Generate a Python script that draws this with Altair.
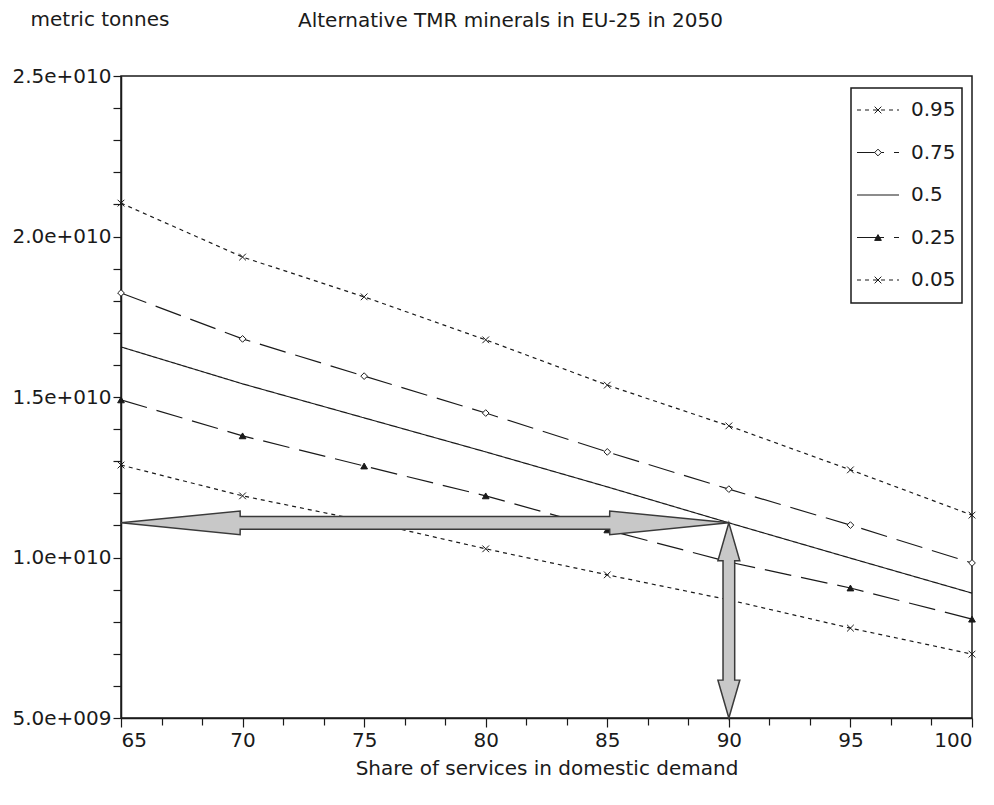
import altair as alt
import pandas as pd

# ---------------- data (values in 1e9 metric tonnes) ----------------
share = [65, 70, 75, 80, 85, 90, 95, 100]
series_labels = ["0.95", "0.75", "0.5", "0.25", "0.05"]
q95 = [21.04, 19.36, 18.12, 16.78, 15.37, 14.10, 12.73, 11.32]
q75 = [18.24, 16.81, 15.65, 14.50, 13.29, 12.13, 11.01, 9.83]
q50 = [16.56, 15.41, 14.35, 13.29, 12.20, 11.08, 9.98, 8.89]
q25 = [14.91, 13.79, 12.85, 11.92, 10.86, 9.86, 9.05, 8.08]
q05 = [12.88, 11.92, 11.14, 10.27, 9.46, 8.68, 7.80, 6.99]

x_major = [65, 70, 75, 80, 85, 90, 95, 100]
x_minor = [65 + 5 * k / 3 for k in range(1, 21) if k % 3 != 0]
y_major = [5e9, 1e10, 1.5e10, 2e10, 2.5e10]
y_minor = [k * 1e9 for k in range(6, 25) if k % 5 != 0]

title_text = "Alternative TMR minerals in EU-25 in 2050"
y_title = "metric tonnes"
x_title = "Share of services in domestic demand"

arrow_x = 90          # share where the arrows meet
arrow_from_x = 65
arrow_floor = 5e9

FONT = "DejaVu Sans"
INK = "#1a1a1a"

rows = []
for lab, vals in zip(series_labels, [q95, q75, q50, q25, q05]):
    for s, v in zip(share, vals):
        rows.append({"series": lab, "share": s, "value": v * 1e9})
df = pd.DataFrame(rows)
pts = df[df["series"] != "0.5"]

x_scale = alt.Scale(domain=[65, 100], nice=False, zero=False)
y_scale = alt.Scale(domain=[5e9, 2.5e10], nice=False, zero=False)
dash_scale = alt.Scale(domain=series_labels,
                       range=[[4, 4], [27, 10], [1, 0], [27, 10], [4, 4]])
xpath = "M-1,-1L1,1M-1,1L1,-1"
mk_labels = ["0.95", "0.75", "0.25", "0.05"]
shape_scale = alt.Scale(domain=mk_labels, range=[xpath, "diamond", "triangle-up", xpath])
fill_scale = alt.Scale(domain=mk_labels, range=["transparent", "white", INK, "transparent"])

label_expr = ("format(datum.value / pow(10, floor(log(datum.value) / LN10 + 1e-9)), '.1f')"
              " + 'e+' + pad(toString(floor(log(datum.value) / LN10 + 1e-9)), 3, '0', 'left')")

lines = alt.Chart(df).mark_line(color=INK, strokeWidth=1.2).encode(
    x=alt.X("share:Q", scale=x_scale,
            axis=alt.Axis(values=x_major, orient="bottom", tickSize=9, labelPadding=3, format="d",
                          title=x_title, titlePadding=8)),
    y=alt.Y("value:Q", scale=y_scale,
            axis=alt.Axis(values=y_major, orient="left", tickSize=8, labelPadding=2,
                          labelExpr=label_expr, title=y_title, titleAngle=0,
                          titleX=-91, titleY=-57, titleAlign="left", titleBaseline="middle")),
    strokeDash=alt.StrokeDash("series:N", scale=dash_scale, legend=None),
    detail="series:N",
)

points = alt.Chart(pts).mark_point(filled=True, stroke=INK, strokeWidth=1, size=45, opacity=1).encode(
    x=alt.X("share:Q", scale=x_scale,
            axis=alt.Axis(values=x_minor, orient="bottom", tickSize=7, labels=False,
                          domain=False, title=None)),
    y=alt.Y("value:Q", scale=y_scale,
            axis=alt.Axis(values=y_minor, orient="left", tickSize=8, labels=False,
                          domain=False, title=None)),
    shape=alt.Shape("series:N", scale=shape_scale, legend=None),
    fill=alt.Fill("series:N", scale=fill_scale, legend=None),
)

# ---- arrows (annotation) ----
v = q50[share.index(arrow_x)] * 1e9
eps = 0.002        # tiny step so that the outline steps are near-vertical
h_len = 4.9        # head length, x units
h_half = 0.37e9    # head half height
s_half = 0.20e9    # shaft half height
harrow = pd.DataFrame({
    "x": [arrow_from_x, arrow_from_x + h_len, arrow_from_x + h_len + eps,
          arrow_x - h_len - eps, arrow_x - h_len, arrow_x],
    "y": [v, v + h_half, v + s_half, v + s_half, v + h_half, v],
    "y2": [v, v - h_half, v - s_half, v - s_half, v - h_half, v],
})
v_len = 1.18e9
yeps = 0.003e9
v_half = 0.45
vs_half = 0.24
varrow = pd.DataFrame({
    "y": [v, v - v_len, v - v_len - yeps, arrow_floor + v_len + yeps, arrow_floor + v_len, arrow_floor],
    "x": [arrow_x, arrow_x - v_half, arrow_x - vs_half, arrow_x - vs_half, arrow_x - v_half, arrow_x],
    "x2": [arrow_x, arrow_x + v_half, arrow_x + vs_half, arrow_x + vs_half, arrow_x + v_half, arrow_x],
})
arrow_style = dict(fill="#c8c8c8", stroke="#3a3a3a", strokeWidth=1.5, opacity=1, interpolate="linear")
h_layer = alt.Chart(harrow).mark_area(**arrow_style).encode(
    x=alt.X("x:Q", scale=x_scale, axis=None),
    y=alt.Y("y:Q", scale=y_scale, axis=None, stack=None),
    y2="y2:Q",
)
v_layer = alt.Chart(varrow).mark_area(orient="horizontal", **arrow_style).encode(
    y=alt.Y("y:Q", scale=y_scale, axis=None),
    x=alt.X("x:Q", scale=x_scale, axis=None, stack=None),
    x2="x2:Q",
)

main = alt.layer(lines, points, h_layer, v_layer).resolve_axis(x="independent", y="independent")

# ---- legend box ----
leg_df = pd.DataFrame({"series": series_labels})
leg_y = alt.Y("series:N", scale=alt.Scale(type="point", domain=series_labels,
                                          range=[34, 204], padding=0), axis=None)
box = alt.Chart(pd.DataFrame({"a": [0]})).mark_rect(
    fill="white", stroke=INK, strokeWidth=1.5).encode(
    x=alt.value(730), x2=alt.value(841), y=alt.value(12), y2=alt.value(227))
leg_lines = alt.Chart(leg_df).mark_rule(color=INK, strokeWidth=1.2).encode(
    x=alt.value(736), x2=alt.value(778), y=leg_y,
    strokeDash=alt.StrokeDash("series:N", scale=dash_scale, legend=None))
leg_pts = alt.Chart(leg_df[leg_df["series"] != "0.5"]).mark_point(
    filled=True, stroke=INK, strokeWidth=1, size=45, opacity=1).encode(
    x=alt.value(757), y=leg_y,
    shape=alt.Shape("series:N", scale=shape_scale, legend=None),
    fill=alt.Fill("series:N", scale=fill_scale, legend=None))
leg_text = alt.Chart(leg_df).mark_text(align="left", baseline="middle", font=FONT,
                                       fontSize=20, color=INK).encode(
    x=alt.value(790), y=leg_y, text="series:N")
legend = alt.layer(box, leg_lines, leg_pts, leg_text)

chart = alt.layer(main, legend).resolve_scale(y="independent").properties(
    width=851, height=642,
    autosize=alt.AutoSizeParams(type="none"),
    padding={"left": 113, "top": 68, "right": 14, "bottom": 70},
    title=alt.TitleParams(title_text, anchor="start", frame="group", dx=177, dy=26,
                          fontSize=20, font=FONT, fontWeight="normal", color=INK),
).configure_view(stroke=INK, strokeWidth=1.5).configure_axis(
    grid=False, domainColor=INK, domainWidth=1.5, tickColor=INK, tickWidth=1.2,
    labelColor=INK, labelFont=FONT, labelFontSize=20, titleFont=FONT, titleFontSize=20,
    titleFontWeight="normal", titleColor=INK,
)

chart.save("out.html", embed_options={"renderer": "svg", "actions": False})
